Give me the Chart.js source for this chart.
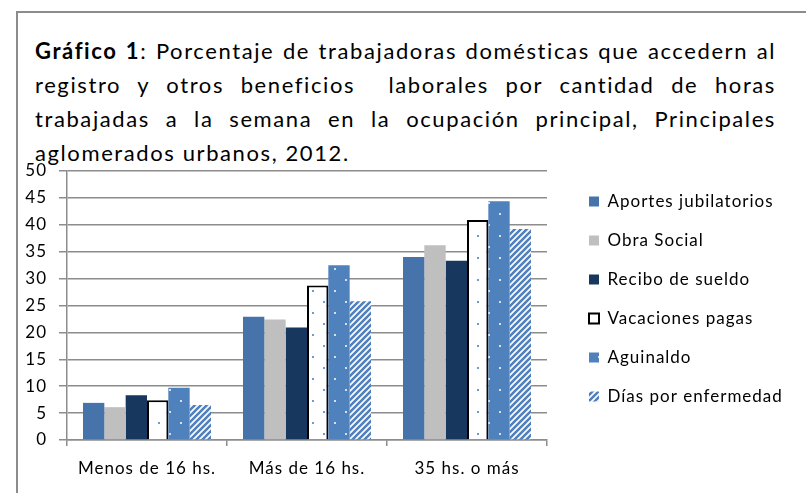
<!DOCTYPE html>
<html>
<head>
<meta charset="utf-8">
<script src="https://cdn.jsdelivr.net/npm/chart.js@4.4.0/dist/chart.umd.min.js"></script>
<style>
  html, body { margin: 0; padding: 0; background: #fff; overflow: hidden; }
  #wrap { position: relative; width: 806px; height: 493px; }
  #frame { position: absolute; left: 16px; top: 11px; width: 820px; height: 520px;
           border-left: 2px solid #8c8c8c; border-top: 2px solid #8c8c8c; }
  #title { position: absolute; left: 35px; top: 34px; width: 741px;
           font-family: Lato, sans-serif; font-size: 22px; letter-spacing: 1.6px;
           line-height: 34px; color: #000; white-space: nowrap; }
  #title .j { text-align: justify; text-align-last: justify; }
  canvas { position: absolute; left: 0; top: 0; }
</style>
</head>
<body>
<div id="wrap">
  <div id="frame"></div>
  <div id="title">
    <div class="j"><b>Gráfico 1</b>: Porcentaje de trabajadoras domésticas que accedern al</div>
    <div class="j">registro y otros beneficios &nbsp;laborales por cantidad de horas</div>
    <div class="j">trabajadas a la semana en la ocupación principal, Principales</div>
    <div>aglomerados urbanos, 2012.</div>
  </div>
  <canvas id="chart" width="806" height="493"></canvas>
</div>
<script>
const categories = ["Menos de 16 hs.", "Más de 16 hs.", "35 hs. o más"];
const aportes = [6.9, 22.9, 34.0];
const obraSocial = [6.1, 22.4, 36.2];
const recibo = [8.3, 20.9, 33.3];
const vacaciones = [7.4, 28.7, 40.9];
const aguinaldo = [9.7, 32.5, 44.4];
const diasEnfermedad = [6.5, 25.8, 39.2];
const yMax = 50;
const yStep = 5;

const FONT = "Lato, sans-serif";
const GRID = "#8c8c8c";

function dotPattern(bg, dot) {
  const c = document.createElement("canvas");
  c.width = 22; c.height = 22;
  const g = c.getContext("2d");
  g.fillStyle = bg;
  g.fillRect(0, 0, 22, 22);
  g.fillStyle = dot;
  g.fillRect(4, 4, 2, 2);
  g.fillRect(15, 15, 2, 2);
  return g.createPattern(c, "repeat");
}

function stripePattern(fg, bg) {
  const c = document.createElement("canvas");
  c.width = 6; c.height = 6;
  const g = c.getContext("2d");
  g.fillStyle = bg;
  g.fillRect(0, 0, 6, 6);
  g.strokeStyle = fg;
  g.lineWidth = 2.6;
  g.beginPath();
  g.moveTo(-3, 9); g.lineTo(9, -3);
  g.moveTo(-3, 3); g.lineTo(3, -3);
  g.moveTo(3, 9); g.lineTo(9, 3);
  g.stroke();
  return g.createPattern(c, "repeat");
}

const ctx = document.getElementById("chart").getContext("2d");

// keeps the legend a fixed width, so the plot ends where it should
const legendWidth = {
  id: "legendWidth",
  afterInit(chart) {
    const lg = chart.legend;
    const fit = lg.fit;
    lg.fit = function () {
      fit.call(this);
      this.width = 239;
    };
  }
};

// the source font is spaced out a little
const spacing = {
  id: "spacing",
  beforeUpdate(chart) { chart.ctx.letterSpacing = "1px"; },
  beforeDraw(chart) { chart.ctx.letterSpacing = "1px"; }
};

new Chart(ctx, {
  type: "bar",
  data: {
    labels: categories,
    datasets: [
      { label: "Aportes jubilatorios", data: aportes, backgroundColor: "#4674aa", borderWidth: 0 },
      { label: "Obra Social", data: obraSocial, backgroundColor: "#bfbfbf", borderWidth: 0 },
      { label: "Recibo de sueldo", data: recibo, backgroundColor: "#17375e", borderWidth: 0 },
      { label: "Vacaciones pagas", data: vacaciones, backgroundColor: dotPattern("#ffffff", "#6f99cc"),
        borderColor: "#000000", borderWidth: 2 },
      { label: "Aguinaldo", data: aguinaldo, backgroundColor: dotPattern("#4f81bd", "#d5e1f0"), borderWidth: 0 },
      { label: "Días por enfermedad", data: diasEnfermedad, backgroundColor: stripePattern("#4f81bd", "#ffffff"),
        borderWidth: 0 }
    ]
  },
  options: {
    responsive: false,
    animation: false,
    events: [],
    layout: { padding: { left: 20, top: 171, right: 0, bottom: 10 } },
    datasets: { bar: { categoryPercentage: 0.8, barPercentage: 1.0 } },
    scales: {
      x: {
        grid: { display: true, drawOnChartArea: false, drawTicks: true, tickLength: 6, color: GRID, lineWidth: 1.5 },
        border: { display: true, color: GRID, width: 1.5 },
        ticks: { color: "#000", font: { family: FONT, size: 17 }, padding: 12 },
        afterFit(s) { s.height = 43; }
      },
      y: {
        min: 0,
        max: yMax,
        ticks: { stepSize: yStep, color: "#000", font: { family: FONT, size: 17 }, padding: 12 },
        grid: { color: GRID, lineWidth: 1.5, tickLength: 8 },
        border: { display: true, color: GRID, width: 1.5 },
        afterFit(s) { s.width = 47; }
      },
      spacer: {
        type: "linear",
        position: "right",
        display: true,
        grid: { display: false, drawTicks: false },
        border: { display: false },
        ticks: { display: false },
        afterFit(s) { s.width = 20; }
      }
    },
    plugins: {
      title: { display: false },
      tooltip: { enabled: false },
      legend: {
        position: "right",
        align: "start",
        labels: {
          boxWidth: 10,
          boxHeight: 10,
          padding: 22,
          color: "#000",
          font: { family: FONT, size: 17 }
        }
      }
    }
  },
  plugins: [legendWidth, spacing]
});
</script>
</body>
</html>
